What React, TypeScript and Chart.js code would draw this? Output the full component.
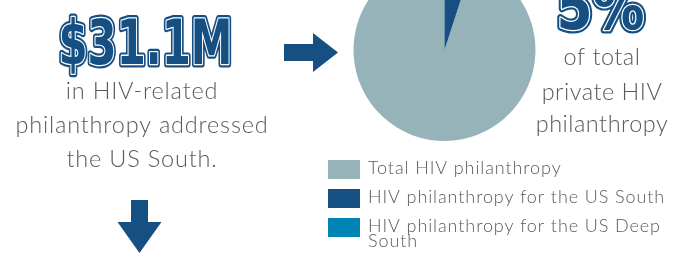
import React, { useEffect, useRef } from "react";
import { Chart, registerables } from "chart.js";

Chart.register(...registerables);

const categories = [
  "Total HIV philanthropy",
  "HIV philanthropy for the US South",
  "HIV philanthropy for the US Deep South",
];
const shares = [95, 5, 0];
const sliceColors = ["#95b3b9", "#164f82", "#0084b5"];
const headlineAmount = "$31.1M";
const leftCaption = ["in HIV-related", "philanthropy addressed", "the US South."];
const rightCaption = ["of total", "private HIV", "philanthropy"];

const BLUE = "#164f82";
const GREY_TEXT = "#5a5a5a";
const BODY_FONT = "'Lato', 'Open Sans', sans-serif";
const DISPLAY_FONT = "'DejaVu Sans Condensed', 'DejaVu Sans', sans-serif";
const OFFSET = 41;
const W = 689;
const H = 256 + OFFSET;

function inlineText(
  ctx: CanvasRenderingContext2D,
  text: string,
  cx: number,
  baseline: number,
  size: number,
  targetWidth: number
) {
  ctx.save();
  ctx.font = `bold ${size}px ${DISPLAY_FONT}`;
  const w = ctx.measureText(text).width;
  const sx = targetWidth / w;
  ctx.translate(cx, baseline);
  ctx.scale(sx, 1);
  ctx.textAlign = "center";
  ctx.textBaseline = "alphabetic";
  ctx.lineJoin = "round";
  ctx.strokeStyle = BLUE;
  ctx.lineWidth = 7;
  ctx.strokeText(text, 0, 0);
  ctx.strokeStyle = "#ffffff";
  ctx.lineWidth = 2.6;
  ctx.strokeText(text, 0, 0);
  ctx.fillStyle = BLUE;
  ctx.fillText(text, 0, 0);
  ctx.restore();
}

function poly(ctx: CanvasRenderingContext2D, pts: number[][]) {
  ctx.beginPath();
  pts.forEach((p, i) => (i === 0 ? ctx.moveTo(p[0], p[1]) : ctx.lineTo(p[0], p[1])));
  ctx.closePath();
  ctx.fill();
}

function wrap(ctx: CanvasRenderingContext2D, text: string, maxW: number): string[] {
  const words = text.split(" ");
  const lines: string[] = [];
  let cur = "";
  for (const w of words) {
    const t = cur ? cur + " " + w : w;
    if (ctx.measureText(t).width > maxW && cur) {
      lines.push(cur);
      cur = w;
    } else cur = t;
  }
  if (cur) lines.push(cur);
  return lines;
}

const decorPlugin = {
  id: "decor",
  afterDraw(chart: any) {
    const ctx: any = chart.ctx;
    ctx.save();
    ctx.translate(0, OFFSET);

    // headline amount
    inlineText(ctx, headlineAmount, 145.5, 63.5, 62, 174);

    // share headline
    const total = shares.reduce((a, b) => a + b, 0);
    const pct = Math.round((shares[1] / total) * 100) + "%";
    inlineText(ctx, pct, 600.5, 28.5, 62, 88);

    // captions
    ctx.fillStyle = GREY_TEXT;
    ctx.textAlign = "center";
    ctx.textBaseline = "alphabetic";
    ctx.font = `300 23.5px ${BODY_FONT}`;
    ctx.letterSpacing = "0.8px";
    const lb = [99, 133, 167];
    leftCaption.forEach((t, i) => ctx.fillText(t, 142, lb[i]));
    const rb = [65, 100, 132];
    ctx.letterSpacing = "0.5px";
    rightCaption.forEach((t, i) => ctx.fillText(t, 602, rb[i]));

    // arrows
    ctx.fillStyle = BLUE;
    poly(ctx, [
      [284, 44], [313, 44], [313, 33], [338, 52.5], [313, 72], [313, 61], [284, 61],
    ]);
    poly(ctx, [
      [131, 200], [148, 200], [148, 222], [161.5, 222], [139.5, 253], [117.5, 222], [131, 222],
    ]);

    // legend
    ctx.textAlign = "left";
    ctx.font = `300 18px ${BODY_FONT}`;
    ctx.letterSpacing = "0.9px";
    let y = 160;
    categories.forEach((label, i) => {
      ctx.fillStyle = sliceColors[i];
      ctx.fillRect(328, y, 32, 19);
      ctx.fillStyle = GREY_TEXT;
      const lines = wrap(ctx, label, 312);
      lines.forEach((l: string, j: number) => ctx.fillText(l, 368, y + 14 + j * 15));
      y += 29;
    });

    ctx.restore();
  },
};

export default function App() {
  const ref = useRef<HTMLCanvasElement>(null);
  useEffect(() => {
    if (!ref.current) return;
    const chart = new Chart(ref.current, {
      type: "pie",
      data: {
        labels: categories,
        datasets: [
          {
            data: shares,
            backgroundColor: sliceColors,
            borderWidth: 0,
          },
        ],
      },
      options: {
        responsive: false,
        animation: false,
        devicePixelRatio: 1,
        rotation: 18,
        layout: {
          padding: { left: 353.5, right: W - 535.5, top: 0, bottom: H - 182 },
        },
        plugins: {
          legend: { display: false },
          tooltip: { enabled: false },
        },
      },
      plugins: [decorPlugin],
    });
    return () => chart.destroy();
  }, []);
  return (
    <div
      style={{
        position: "fixed",
        left: 0,
        top: 0,
        width: W,
        height: 256,
        overflow: "hidden",
        background: "#fff",
      }}
    >
      <canvas
        ref={ref}
        width={W}
        height={H}
        style={{ position: "absolute", left: 0, top: -OFFSET, width: W, height: H }}
      />
    </div>
  );
}
